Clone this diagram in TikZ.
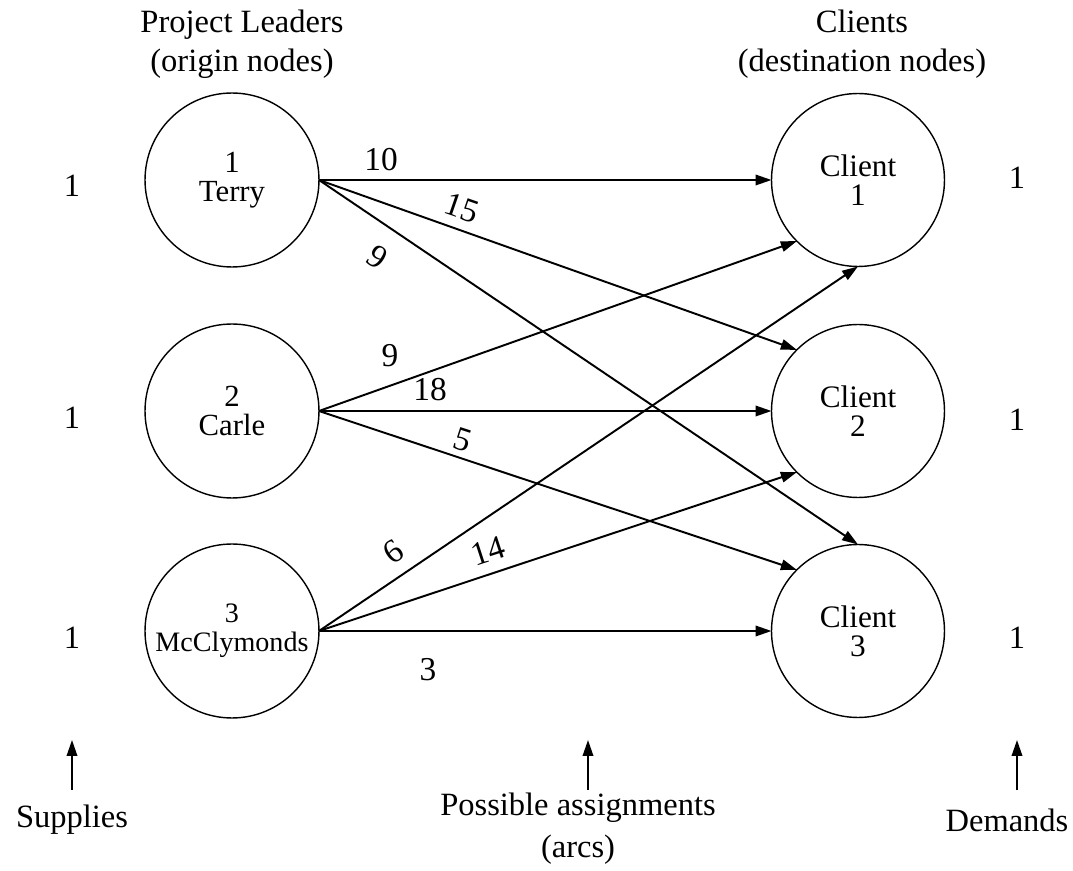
\documentclass[tikz,border=0pt]{standalone}
\usepackage{fontspec}
\setmainfont{Liberation Serif}
\usetikzlibrary{arrows.meta}
\begin{document}
\begin{tikzpicture}[x=0.02cm,y=-0.02cm,
  every node/.style={inner sep=0pt,outer sep=0pt},
  site/.style={circle,draw,line width=0.8pt,align=center},
  txt/.style={font=\fontsize{18.5}{20}\selectfont},
  head/.style={font=\fontsize{18.5}{22}\selectfont,align=center},
  cost/.style={font=\fontsize{19}{20}\selectfont},
  arc/.style={line width=1.1pt,-{Triangle[length=3.2mm,width=2.1mm]}},
  pointer/.style={line width=1.1pt,-{Triangle[length=3.2mm,width=2.1mm]}}]
\useasboundingbox (0,0) rectangle (1073,871);

% column headings
\node[head] (hl) at (242,44) {Project Leaders\\(origin nodes)};
\node[head] (hr) at (862,44) {Clients\\(destination nodes)};

% origin nodes
\node[site,minimum size=3.48cm,font=\fontsize{17.5}{16.5}\selectfont] (T) at (232,180) {1\\Terry};
\node[site,minimum size=3.48cm,font=\fontsize{17.5}{16.5}\selectfont] (K) at (232,411) {2\\Carle};
\node[site,minimum size=3.48cm,font=\fontsize{16}{16.5}\selectfont] (M) at (232,631) {3\\McClymonds};

% destination nodes
\node[site,minimum size=3.46cm,font=\fontsize{17.8}{16.5}\selectfont] (C1) at (858,180) {Client\\1};
\node[site,minimum size=3.46cm,font=\fontsize{17.8}{16.5}\selectfont] (C2) at (858,411) {Client\\2};
\node[site,minimum size=3.46cm,font=\fontsize{17.8}{16.5}\selectfont] (C3) at (858,631) {Client\\3};

% supplies and demands
\node[txt] (s1) at (72,186) {1};
\node[txt] (s2) at (72,418) {1};
\node[txt] (s3) at (72,638) {1};
\node[txt] (d1) at (1017,178) {1};
\node[txt] (d2) at (1017,420) {1};
\node[txt] (d3) at (1017,638) {1};

% assignment arcs
\draw[arc] (T.east) -- (C1.west);
\draw[arc] (T.east) -- (C2.north west);
\draw[arc] (T.east) -- (C3.north);
\draw[arc] (K.east) -- (C1.south west);
\draw[arc] (K.east) -- (C2.west);
\draw[arc] (K.east) -- (C3.north west);
\draw[arc] (M.east) -- (C1.south);
\draw[arc] (M.east) -- (C2.south west);
\draw[arc] (M.east) -- (C3.west);

% arc costs
\node[cost] (c11) at (381,160) {10};
\node[cost,rotate=-19] (c12) at (462,208) {15};
\node[cost,rotate=-34] (c13) at (378,257) {9};
\node[cost] (c21) at (390,356) {9};
\node[cost] (c22) at (430,390) {18};
\node[cost,rotate=-18] (c23) at (463,440) {5};
\node[cost,rotate=34] (c31) at (393,552) {6};
\node[cost,rotate=18] (c32) at (488,551) {14};
\node[cost] (c33) at (428,670) {3};

% bottom captions with pointers
\node[txt] (sup) at (72,820) {Supplies};
\node[head,font=\fontsize{18.5}{24}\selectfont] (pos) at (578,829) {Possible assignments\\(arcs)};
\node[txt] (dem) at (1007,820) {Demands};
\coordinate (ps) at (72,740);
\coordinate (pp) at (588,740);
\coordinate (pd) at (1017,740);
\draw[pointer] (72,790) -- (ps);
\draw[pointer] (588,790) -- (pp);
\draw[pointer] (1017,790) -- (pd);
\end{tikzpicture}
\end{document}
